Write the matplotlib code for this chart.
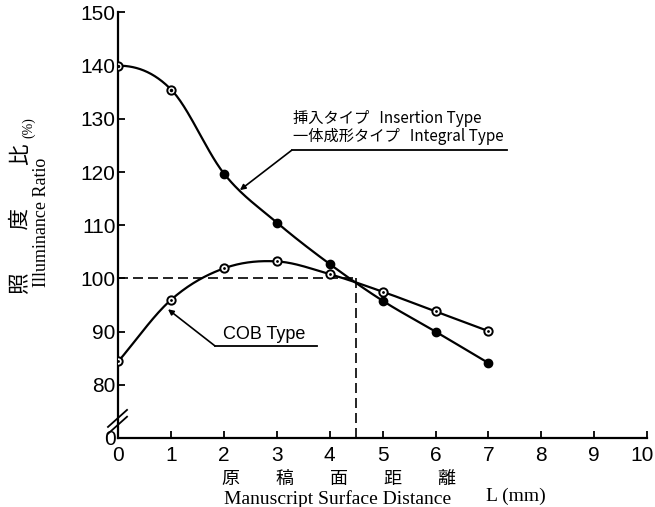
import numpy as np
import matplotlib
matplotlib.use('Agg')
import matplotlib.pyplot as plt
from matplotlib.transforms import ScaledTranslation

# データ (読み取り値)
L_mm = [0, 1, 2, 3, 4, 5, 6, 7]
insert_ratio = [140.0, 135.5, 119.7, 110.5, 102.7, 95.8, 90.0, 84.1]
cob_ratio = [84.4, 96.0, 101.9, 103.2, 100.8, 97.5, 93.8, 90.1]
insert_open = [0, 1]          # 白抜きマーカーの点
x_ticks = [0, 1, 2, 3, 4, 5, 6, 7, 8, 9, 10]
y_ticks = [70, 80, 90, 100, 110, 120, 130, 140, 150]
y_ticklabels = ['0', '80', '90', '100', '110', '120', '130', '140', '150']
ref_ratio = 100
ref_L = 4.5

plt.rcParams['font.family'] = ['Liberation Sans', 'Noto Sans CJK JP', 'DejaVu Sans']
jp = ['Noto Sans CJK JP', 'DejaVu Sans']
serif = ['Liberation Serif', 'DejaVu Serif']


def smooth(x, y, n=30, flat_start=False):
    # Catmull-Rom で点を滑らかに結ぶ (描画用)
    x = np.asarray(x, float)
    y = np.asarray(y, float)
    y0 = y[1] if flat_start else 2*y[0]-y[1]
    px = np.concatenate([[2*x[0]-x[1]], x, [2*x[-1]-x[-2]]])
    py = np.concatenate([[y0], y, [2*y[-1]-y[-2]]])
    xs, ys = [], []
    t = np.linspace(0, 1, n)
    for i in range(1, len(px)-2):
        for p, out in ((px, xs), (py, ys)):
            p0, p1, p2, p3 = p[i-1], p[i], p[i+1], p[i+2]
            out.extend(0.5*((2*p1) + (-p0+p2)*t + (2*p0-5*p1+4*p2-p3)*t**2
                            + (-p0+3*p1-3*p2+p3)*t**3))
    return np.array(xs), np.array(ys)


fig = plt.figure(figsize=(6.55, 5.07), dpi=100)
ax = fig.add_axes([0.1806, 0.1361, 0.8072, 0.8393])

# 曲線
sx, sy = smooth(L_mm, insert_ratio, flat_start=True)
ax.plot(sx, sy, color='black', lw=1.6)
sx, sy = smooth(L_mm, cob_ratio)
ax.plot(sx, sy, color='black', lw=1.6)

# マーカー
filled = [i for i in range(len(L_mm)) if i not in insert_open]
ax.plot([L_mm[i] for i in filled], [insert_ratio[i] for i in filled], 'o',
        color='black', ms=6, zorder=3)
ax.plot([L_mm[i] for i in insert_open], [insert_ratio[i] for i in insert_open], 'o',
        mfc='white', mec='black', mew=1.4, ms=6, zorder=3)
ax.plot(L_mm, cob_ratio, 'o', mfc='white', mec='black', mew=1.4, ms=6, zorder=3)
ax.plot([L_mm[i] for i in insert_open], [insert_ratio[i] for i in insert_open], '.',
        color='black', ms=3, zorder=4)
ax.plot(L_mm, cob_ratio, '.', color='black', ms=2, zorder=4)

# 破線
ax.plot([0, ref_L], [ref_ratio, ref_ratio], color='black', lw=1.2, ls=(0, (6, 3)))
ax.plot([ref_L, ref_L], [ref_ratio, 70], color='black', lw=1.2, ls=(0, (6, 3)))

# 注記
ax.text(3.30, 130.0, '挿入タイプ   Insertion Type', fontsize=11, va='center',
        family=['Noto Sans CJK JP', 'Liberation Sans'])
ax.text(3.30, 126.6, '一体成形タイプ   Integral Type', fontsize=11, va='center',
        family=['Noto Sans CJK JP', 'Liberation Sans'])
ax.plot([3.28, 7.36], [124.1, 124.1], color='black', lw=1.3)
ax.annotate('', xy=(2.30, 116.6), xytext=(3.28, 124.1),
            arrowprops=dict(arrowstyle='-|>', lw=1.2, color='black',
                            mutation_scale=8, shrinkA=0, shrinkB=0))

ax.text(1.98, 89.5, 'COB Type', fontsize=13, va='center',
        family=['Liberation Sans'])
ax.plot([1.83, 3.76], [87.3, 87.3], color='black', lw=1.3)
ax.annotate('', xy=(0.94, 94.2), xytext=(1.83, 87.3),
            arrowprops=dict(arrowstyle='-|>', lw=1.2, color='black',
                            mutation_scale=8, shrinkA=0, shrinkB=0))

# 軸
ax.set_xlim(0, 10)
ax.set_ylim(70, 150)
ax.set_xticks(x_ticks)
ax.set_yticks(y_ticks)
ax.set_yticklabels(y_ticklabels)
ax.tick_params(direction='in', length=5, width=1.3, labelsize=15, pad=2)
ax.tick_params(axis='x', pad=6)
ax.spines['top'].set_visible(False)
ax.spines['right'].set_visible(False)
ax.spines['left'].set_linewidth(1.6)
ax.spines['bottom'].set_linewidth(1.6)
# 右端の "10" を少し内側へ
last = ax.get_xticklabels()[-1]
last.set_transform(last.get_transform() + ScaledTranslation(-5/100, 0, fig.dpi_scale_trans))

# 省略記号 //
for off in (0.0, -0.016):
    ax.plot([-0.0195, 0.0165], [0.026 + off, 0.066 + off], transform=ax.transAxes,
            color='black', lw=1.3, clip_on=False)

# 軸ラベル
fig.text(21/655, 1 - 219/507, '照\u3000\u3000度\u3000\u3000比', rotation=90,
         fontsize=15.5, family=jp, ha='center', va='center')
fig.text(29/655, 1 - 128/507, '(%)', rotation=90, fontsize=10, family=serif,
         ha='center', va='center')
fig.text(41/655, 1 - 222/507, 'Illuminance Ratio', rotation=90, fontsize=13,
         family=serif, ha='center', va='center')
fig.text(339/655, 1 - 479/507, '原\u3000\u3000稿\u3000\u3000面\u3000\u3000距\u3000\u3000離',
         fontsize=13, family=jp, ha='center', va='center')
fig.text(338/655, 1 - 499/507, 'Manuscript Surface Distance', fontsize=14,
         family=serif, ha='center', va='center')
fig.text(516/655, 1 - 496/507, 'L (mm)', fontsize=14, family=serif,
         ha='center', va='center')

plt.savefig('out.png', dpi=100)
